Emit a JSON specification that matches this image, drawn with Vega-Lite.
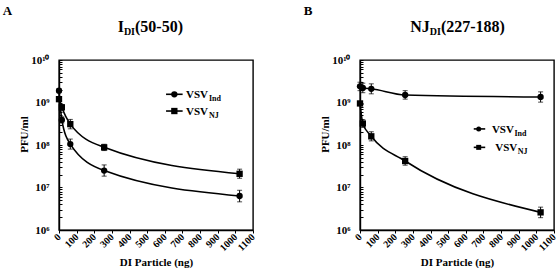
{
  "$schema": "https://vega.github.io/schema/vega-lite/v6.json",
  "padding": {"left": 2, "top": 4, "right": 0, "bottom": 0},
  "spacing": 45,
  "config": {
    "font": "Liberation Serif",
    "view": {"stroke": "black", "strokeWidth": 1.4},
    "axis": {"labelFont": "Liberation Serif", "titleFont": "Liberation Serif", "labelFontWeight": "bold", "titleFontWeight": "bold", "labelColor": "black", "titleColor": "black", "domainColor": "black", "tickColor": "black", "grid": false, "domainWidth": 1.4, "labelOverlap": false}
  },
  "datasets": {
    "a": [
      {"x": 0, "series": "Ind", "y": 1900000000, "lo": 1700000000, "hi": 2100000000},
      {"x": 16, "series": "Ind", "y": 390000000, "lo": 330000000, "hi": 460000000},
      {"x": 64, "series": "Ind", "y": 105000000, "lo": 80000000, "hi": 138000000},
      {"x": 256, "series": "Ind", "y": 25000000, "lo": 18500000, "hi": 34000000},
      {"x": 1024, "series": "Ind", "y": 6300000, "lo": 4600000, "hi": 8600000},
      {"x": 0, "series": "NJ", "y": 1200000000, "lo": 1050000000, "hi": 1350000000},
      {"x": 16, "series": "NJ", "y": 770000000, "lo": 660000000, "hi": 900000000},
      {"x": 64, "series": "NJ", "y": 310000000, "lo": 240000000, "hi": 400000000},
      {"x": 256, "series": "NJ", "y": 88000000, "lo": 74000000, "hi": 104000000},
      {"x": 1024, "series": "NJ", "y": 21000000, "lo": 16500000, "hi": 27000000}
    ],
    "b": [
      {"x": 0, "series": "Ind", "y": 2400000000, "lo": 1900000000, "hi": 3000000000},
      {"x": 16, "series": "Ind", "y": 2200000000, "lo": 1700000000, "hi": 2850000000},
      {"x": 64, "series": "Ind", "y": 2100000000, "lo": 1600000000, "hi": 2750000000},
      {"x": 256, "series": "Ind", "y": 1500000000, "lo": 1200000000, "hi": 1900000000},
      {"x": 1024, "series": "Ind", "y": 1350000000, "lo": 1020000000, "hi": 1780000000},
      {"x": 0, "series": "NJ", "y": 950000000, "lo": 850000000, "hi": 1060000000},
      {"x": 16, "series": "NJ", "y": 320000000, "lo": 260000000, "hi": 395000000},
      {"x": 64, "series": "NJ", "y": 160000000, "lo": 125000000, "hi": 205000000},
      {"x": 256, "series": "NJ", "y": 42000000, "lo": 33500000, "hi": 53000000},
      {"x": 1024, "series": "NJ", "y": 2600000, "lo": 1950000, "hi": 3450000}
    ]
  },
  "hconcat": [
    {
      "width": 194, "height": 170,
      "data": {"name": "a"},
      "layer": [
        {"mark": {"type": "line", "interpolate": "monotone", "color": "black", "strokeWidth": 1.6},
         "encoding": {
           "x": {"field": "x", "type": "quantitative", "scale": {"domain": [0, 1100], "nice": false}, "axis": {"title": "DI Particle (ng)", "format": "d", "tickCount": 11, "labelOverlap": false, "labelFlush": false, "labelAngle": -45, "labelAlign": "right", "labelBaseline": "middle", "labelFontSize": 10, "labelPadding": 2, "tickSize": 3, "titleFontSize": 11, "titleY": 35, "titleBaseline": "alphabetic"}},
           "y": {"field": "y", "type": "quantitative", "scale": {"type": "log", "domain": [1000000, 10000000000], "nice": false}, "axis": {"title": "PFU/ml", "tickCount": 40, "labelOverlap": false, "labelExpr": "datum.value == 1000000 ? '10⁶' : datum.value == 10000000 ? '10⁷' : datum.value == 100000000 ? '10⁸' : datum.value == 1000000000 ? '10⁹' : datum.value == 10000000000 ? '10¹⁰' : ''", "tickSize": -3, "labelFontSize": 11, "labelPadding": 13, "titleFontSize": 11, "titleX": -30, "titleY": 74}},
           "detail": {"field": "series"}
         }},
        {"mark": {"type": "errorbar", "ticks": {"size": 5}, "color": "black", "thickness": 1},
         "encoding": {
           "x": {"field": "x", "type": "quantitative", "axis": {"title": "DI Particle (ng)", "format": "d", "tickCount": 11, "labelOverlap": false, "labelFlush": false, "labelAngle": -45, "labelAlign": "right", "labelBaseline": "middle", "labelFontSize": 10, "labelPadding": 2, "tickSize": 3, "titleFontSize": 11, "titleY": 35, "titleBaseline": "alphabetic"}},
           "y": {"field": "lo", "type": "quantitative", "axis": {"title": "PFU/ml", "tickCount": 40, "labelOverlap": false, "labelExpr": "datum.value == 1000000 ? '10⁶' : datum.value == 10000000 ? '10⁷' : datum.value == 100000000 ? '10⁸' : datum.value == 1000000000 ? '10⁹' : datum.value == 10000000000 ? '10¹⁰' : ''", "tickSize": -3, "labelFontSize": 11, "labelPadding": 13, "titleFontSize": 11, "titleX": -30, "titleY": 74}},
           "y2": {"field": "hi"}
         }},
        {"mark": {"type": "point", "filled": true, "opacity": 1, "color": "black", "size": 40},
         "encoding": {
           "x": {"field": "x", "type": "quantitative", "axis": {"title": "DI Particle (ng)", "format": "d", "tickCount": 11, "labelOverlap": false, "labelFlush": false, "labelAngle": -45, "labelAlign": "right", "labelBaseline": "middle", "labelFontSize": 10, "labelPadding": 2, "tickSize": 3, "titleFontSize": 11, "titleY": 35, "titleBaseline": "alphabetic"}},
           "y": {"field": "y", "type": "quantitative", "axis": {"title": "PFU/ml", "tickCount": 40, "labelOverlap": false, "labelExpr": "datum.value == 1000000 ? '10⁶' : datum.value == 10000000 ? '10⁷' : datum.value == 100000000 ? '10⁸' : datum.value == 1000000000 ? '10⁹' : datum.value == 10000000000 ? '10¹⁰' : ''", "tickSize": -3, "labelFontSize": 11, "labelPadding": 13, "titleFontSize": 11, "titleX": -30, "titleY": 74}},
           "shape": {"field": "series", "type": "nominal", "scale": {"domain": ["Ind", "NJ"], "range": ["circle", "square"]}, "legend": null}
         }},
        {"data": {"values": [{}]}, "mark": {"type": "text", "align": "left", "baseline": "alphabetic", "fontSize": 13, "fontWeight": "bold"},
         "encoding": {"x": {"datum": -319}, "y": {"datum": 115000000000}, "text": {"value": "A"}}},
        {"data": {"values": [{}]}, "mark": {"type": "text", "align": "left", "baseline": "alphabetic", "fontSize": 16, "fontWeight": "bold"},
         "encoding": {"x": {"datum": 333}, "y": {"datum": 46000000000}, "text": {"value": "I"}}},
        {"data": {"values": [{}]}, "mark": {"type": "text", "align": "left", "baseline": "alphabetic", "fontSize": 10, "fontWeight": "bold"},
         "encoding": {"x": {"datum": 368}, "y": {"datum": 38500000000}, "text": {"value": "DI"}}},
        {"data": {"values": [{}]}, "mark": {"type": "text", "align": "left", "baseline": "alphabetic", "fontSize": 16, "fontWeight": "bold"},
         "encoding": {"x": {"datum": 431}, "y": {"datum": 46000000000}, "text": {"value": "(50-50)"}}},
        {"data": {"values": [{}]}, "mark": {"type": "rule", "color": "black", "strokeWidth": 1.6},
         "encoding": {"x": {"datum": 607}, "x2": {"datum": 701}, "y": {"datum": 1560000000}}},
        {"data": {"values": [{}]}, "mark": {"type": "rule", "color": "black", "strokeWidth": 1.6},
         "encoding": {"x": {"datum": 607}, "x2": {"datum": 701}, "y": {"datum": 630000000}}},
        {"data": {"values": [{}]}, "mark": {"type": "point", "filled": true, "opacity": 1, "color": "black", "size": 40, "shape": "circle"},
         "encoding": {"x": {"datum": 654}, "y": {"datum": 1560000000}}},
        {"data": {"values": [{}]}, "mark": {"type": "point", "filled": true, "opacity": 1, "color": "black", "size": 40, "shape": "square"},
         "encoding": {"x": {"datum": 654}, "y": {"datum": 630000000}}},
        {"data": {"values": [{}]}, "mark": {"type": "text", "align": "left", "baseline": "middle", "fontSize": 11, "fontWeight": "bold", "dy": 1},
         "encoding": {"x": {"datum": 720}, "y": {"datum": 1560000000}, "text": {"value": "VSV"}}},
        {"data": {"values": [{}]}, "mark": {"type": "text", "align": "left", "baseline": "middle", "fontSize": 8, "fontWeight": "bold", "dy": 5},
         "encoding": {"x": {"datum": 850}, "y": {"datum": 1560000000}, "text": {"value": "Ind"}}},
        {"data": {"values": [{}]}, "mark": {"type": "text", "align": "left", "baseline": "middle", "fontSize": 11, "fontWeight": "bold", "dy": 1},
         "encoding": {"x": {"datum": 720}, "y": {"datum": 630000000}, "text": {"value": "VSV"}}},
        {"data": {"values": [{}]}, "mark": {"type": "text", "align": "left", "baseline": "middle", "fontSize": 8, "fontWeight": "bold", "dy": 5},
         "encoding": {"x": {"datum": 850}, "y": {"datum": 630000000}, "text": {"value": "NJ"}}}
      ]
    },
    {
      "width": 194, "height": 170,
      "data": {"name": "b"},
      "layer": [
        {"mark": {"type": "line", "interpolate": "monotone", "color": "black", "strokeWidth": 1.6},
         "encoding": {
           "x": {"field": "x", "type": "quantitative", "scale": {"domain": [0, 1100], "nice": false}, "axis": {"title": "DI Particle (ng)", "format": "d", "tickCount": 11, "labelOverlap": false, "labelFlush": false, "labelAngle": -45, "labelAlign": "right", "labelBaseline": "middle", "labelFontSize": 10, "labelPadding": 2, "tickSize": 3, "titleFontSize": 11, "titleY": 35, "titleBaseline": "alphabetic"}},
           "y": {"field": "y", "type": "quantitative", "scale": {"type": "log", "domain": [1000000, 10000000000], "nice": false}, "axis": {"title": "PFU/ml", "tickCount": 40, "labelOverlap": false, "labelExpr": "datum.value == 1000000 ? '10⁶' : datum.value == 10000000 ? '10⁷' : datum.value == 100000000 ? '10⁸' : datum.value == 1000000000 ? '10⁹' : datum.value == 10000000000 ? '10¹⁰' : ''", "tickSize": -3, "labelFontSize": 11, "labelPadding": 13, "titleFontSize": 11, "titleX": -30, "titleY": 74}},
           "detail": {"field": "series"}
         }},
        {"mark": {"type": "errorbar", "ticks": {"size": 5}, "color": "black", "thickness": 1},
         "encoding": {
           "x": {"field": "x", "type": "quantitative", "axis": {"title": "DI Particle (ng)", "format": "d", "tickCount": 11, "labelOverlap": false, "labelFlush": false, "labelAngle": -45, "labelAlign": "right", "labelBaseline": "middle", "labelFontSize": 10, "labelPadding": 2, "tickSize": 3, "titleFontSize": 11, "titleY": 35, "titleBaseline": "alphabetic"}},
           "y": {"field": "lo", "type": "quantitative", "axis": {"title": "PFU/ml", "tickCount": 40, "labelOverlap": false, "labelExpr": "datum.value == 1000000 ? '10⁶' : datum.value == 10000000 ? '10⁷' : datum.value == 100000000 ? '10⁸' : datum.value == 1000000000 ? '10⁹' : datum.value == 10000000000 ? '10¹⁰' : ''", "tickSize": -3, "labelFontSize": 11, "labelPadding": 13, "titleFontSize": 11, "titleX": -30, "titleY": 74}},
           "y2": {"field": "hi"}
         }},
        {"mark": {"type": "point", "filled": true, "opacity": 1, "color": "black", "size": 40},
         "encoding": {
           "x": {"field": "x", "type": "quantitative", "axis": {"title": "DI Particle (ng)", "format": "d", "tickCount": 11, "labelOverlap": false, "labelFlush": false, "labelAngle": -45, "labelAlign": "right", "labelBaseline": "middle", "labelFontSize": 10, "labelPadding": 2, "tickSize": 3, "titleFontSize": 11, "titleY": 35, "titleBaseline": "alphabetic"}},
           "y": {"field": "y", "type": "quantitative", "axis": {"title": "PFU/ml", "tickCount": 40, "labelOverlap": false, "labelExpr": "datum.value == 1000000 ? '10⁶' : datum.value == 10000000 ? '10⁷' : datum.value == 100000000 ? '10⁸' : datum.value == 1000000000 ? '10⁹' : datum.value == 10000000000 ? '10¹⁰' : ''", "tickSize": -3, "labelFontSize": 11, "labelPadding": 13, "titleFontSize": 11, "titleX": -30, "titleY": 74}},
           "shape": {"field": "series", "type": "nominal", "scale": {"domain": ["Ind", "NJ"], "range": ["circle", "square"]}, "legend": null}
         }},
        {"data": {"values": [{}]}, "mark": {"type": "text", "align": "left", "baseline": "alphabetic", "fontSize": 13, "fontWeight": "bold"},
         "encoding": {"x": {"datum": -319}, "y": {"datum": 115000000000}, "text": {"value": "B"}}},
        {"data": {"values": [{}]}, "mark": {"type": "text", "align": "left", "baseline": "alphabetic", "fontSize": 16, "fontWeight": "bold"},
         "encoding": {"x": {"datum": 285}, "y": {"datum": 46000000000}, "text": {"value": "NJ"}}},
        {"data": {"values": [{}]}, "mark": {"type": "text", "align": "left", "baseline": "alphabetic", "fontSize": 10, "fontWeight": "bold"},
         "encoding": {"x": {"datum": 396}, "y": {"datum": 38500000000}, "text": {"value": "DI"}}},
        {"data": {"values": [{}]}, "mark": {"type": "text", "align": "left", "baseline": "alphabetic", "fontSize": 16, "fontWeight": "bold"},
         "encoding": {"x": {"datum": 459}, "y": {"datum": 46000000000}, "text": {"value": "(227-188)"}}},
        {"data": {"values": [{}]}, "mark": {"type": "rule", "color": "black", "strokeWidth": 1.6},
         "encoding": {"x": {"datum": 645}, "x2": {"datum": 710}, "y": {"datum": 239000000}}},
        {"data": {"values": [{}]}, "mark": {"type": "rule", "color": "black", "strokeWidth": 1.6},
         "encoding": {"x": {"datum": 645}, "x2": {"datum": 710}, "y": {"datum": 88000000}}},
        {"data": {"values": [{}]}, "mark": {"type": "point", "filled": true, "opacity": 1, "color": "black", "size": 25, "shape": "circle"},
         "encoding": {"x": {"datum": 673}, "y": {"datum": 239000000}}},
        {"data": {"values": [{}]}, "mark": {"type": "point", "filled": true, "opacity": 1, "color": "black", "size": 25, "shape": "square"},
         "encoding": {"x": {"datum": 673}, "y": {"datum": 88000000}}},
        {"data": {"values": [{}]}, "mark": {"type": "text", "align": "left", "baseline": "middle", "fontSize": 11, "fontWeight": "bold", "dy": 1},
         "encoding": {"x": {"datum": 748}, "y": {"datum": 239000000}, "text": {"value": "VSV"}}},
        {"data": {"values": [{}]}, "mark": {"type": "text", "align": "left", "baseline": "middle", "fontSize": 8, "fontWeight": "bold", "dy": 5},
         "encoding": {"x": {"datum": 876}, "y": {"datum": 239000000}, "text": {"value": "Ind"}}},
        {"data": {"values": [{}]}, "mark": {"type": "text", "align": "left", "baseline": "middle", "fontSize": 11, "fontWeight": "bold", "dy": 1},
         "encoding": {"x": {"datum": 767}, "y": {"datum": 88000000}, "text": {"value": "VSV"}}},
        {"data": {"values": [{}]}, "mark": {"type": "text", "align": "left", "baseline": "middle", "fontSize": 8, "fontWeight": "bold", "dy": 5},
         "encoding": {"x": {"datum": 895}, "y": {"datum": 88000000}, "text": {"value": "NJ"}}}
      ]
    }
  ]
}
